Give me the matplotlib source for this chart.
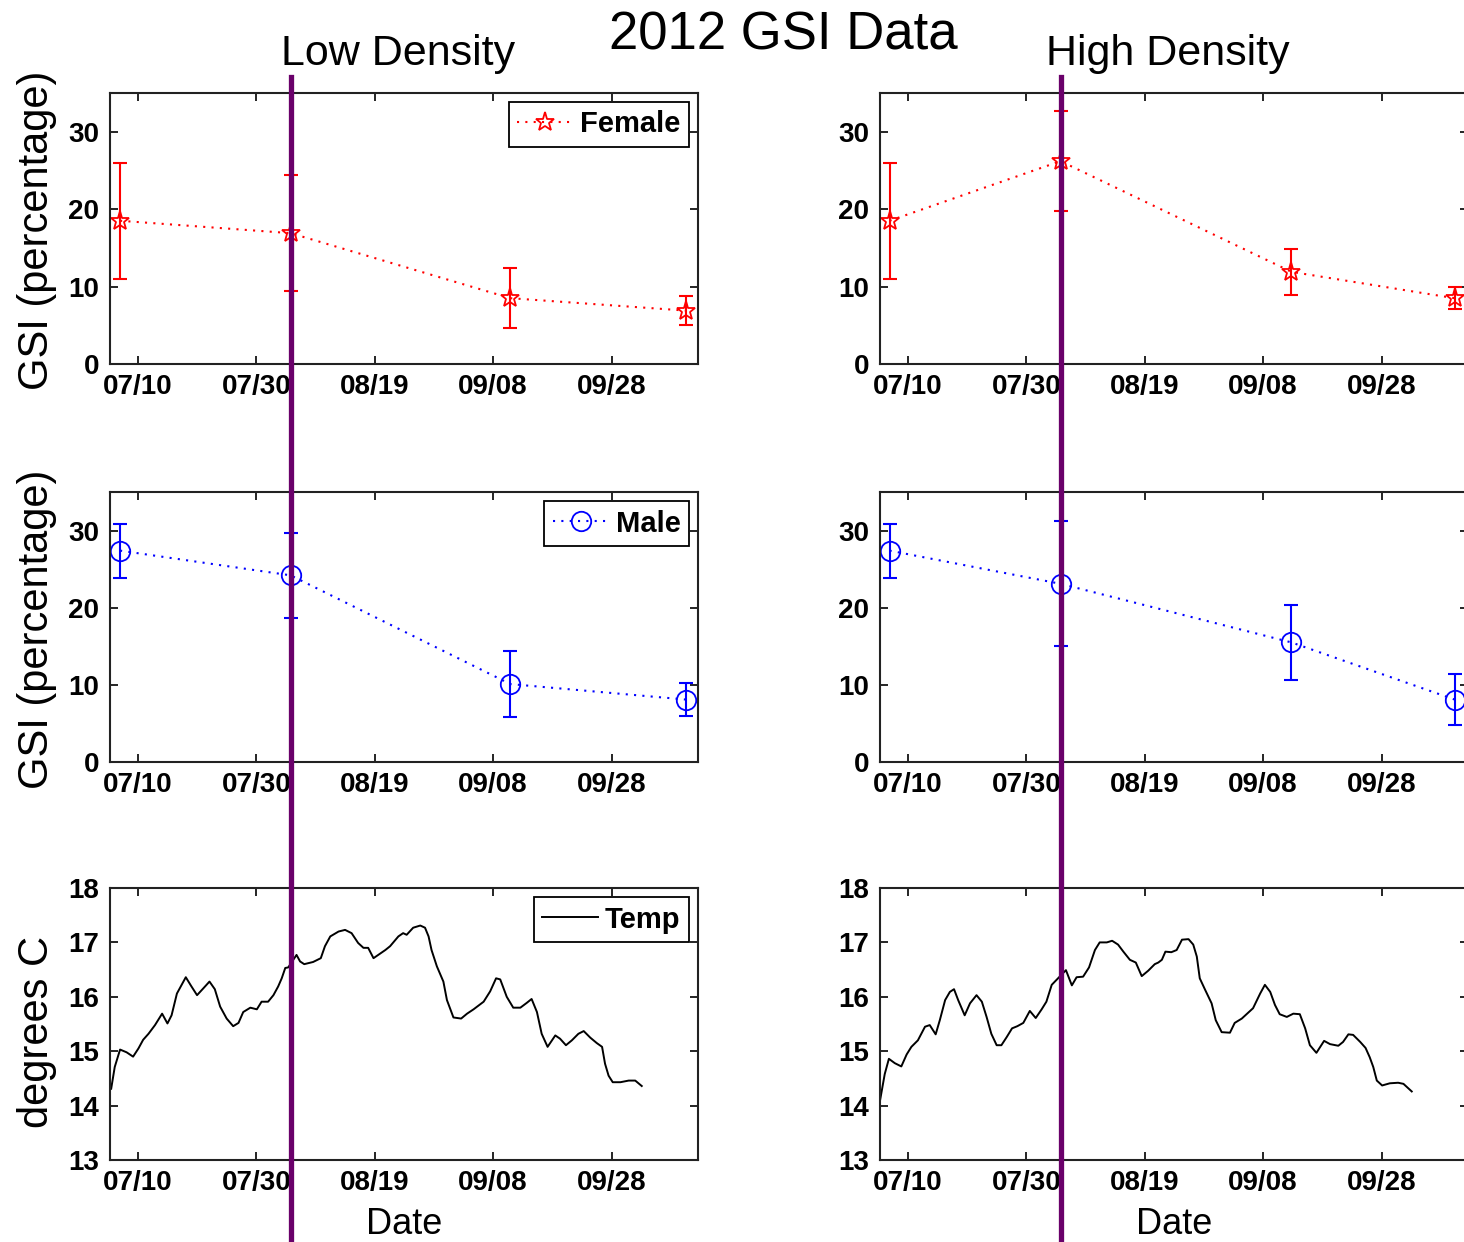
import numpy as np
import matplotlib
matplotlib.use("Agg")
import matplotlib.pyplot as plt
import matplotlib.transforms as mtransforms

plt.rcParams['font.family'] = ['Liberation Sans', 'DejaVu Sans']

# ---------------- data ----------------
start = np.datetime64('2012-07-05T00', 'h')
tick_dates = np.array(['2012-07-10', '2012-07-30', '2012-08-19', '2012-09-08', '2012-09-28'],
                      dtype='datetime64[h]')
tick_labels = ['07/10', '07/30', '08/19', '09/08', '09/28']

low_dates = np.array(['2012-07-07T00', '2012-08-04T19', '2012-09-10T22', '2012-10-10T12'],
                     dtype='datetime64[h]')
high_dates = np.array(['2012-07-06T22', '2012-08-04T19', '2012-09-12T19', '2012-10-10T08'],
                      dtype='datetime64[h]')
split_date = np.datetime64('2012-08-04T19', 'h')

female_low = [18.5, 16.9, 8.5, 6.9]
female_low_err = [7.5, 7.5, 3.9, 1.9]
female_high = [18.5, 26.2, 11.9, 8.5]
female_high_err = [7.5, 6.5, 3.0, 1.4]

male_low = [27.4, 24.2, 10.1, 8.1]
male_low_err = [3.5, 5.5, 4.3, 2.2]
male_high = [27.4, 23.1, 15.5, 8.1]
male_high_err = [3.5, 8.1, 4.9, 3.3]

# temperature, days since 07/05
temp_low_day = [0.5, 1.1, 2.0, 3.1, 4.2, 5.1, 5.9, 6.8, 7.9, 9.1, 10.0, 10.7, 11.6, 13.1, 14.0,
                15.0, 16.1, 17.1, 18.0, 18.9, 20.0, 21.1, 22.0, 22.8, 24.0, 25.1, 25.9, 27.0,
                27.9, 28.7, 29.3, 29.9, 30.4, 31.8, 32.4, 33.1, 34.6, 35.9, 36.6, 37.5, 38.9,
                40.0, 41.1, 42.2, 43.1, 43.9, 44.8, 45.6, 46.8, 47.6, 49.0, 49.8, 50.4, 51.5,
                52.7, 53.5, 54.1, 54.6, 55.5, 56.6, 57.2, 58.3, 59.6, 60.6, 61.7, 63.4, 64.5,
                65.5, 66.2, 67.3, 68.4, 69.6, 70.7, 71.5, 72.4, 73.2, 74.2, 75.5, 76.3, 77.3,
                78.3, 79.4, 80.3, 81.4, 82.5, 83.4, 83.9, 84.5, 85.2, 86.5, 87.9, 89.0, 90.1]
temp_low = [14.31, 14.71, 15.03, 14.98, 14.90, 15.05, 15.21, 15.32, 15.48, 15.69, 15.51, 15.66,
            16.06, 16.36, 16.20, 16.03, 16.16, 16.28, 16.14, 15.82, 15.60, 15.46, 15.52, 15.72,
            15.80, 15.77, 15.91, 15.91, 16.03, 16.19, 16.34, 16.53, 16.54, 16.77, 16.65, 16.60,
            16.64, 16.71, 16.93, 17.11, 17.20, 17.23, 17.17, 16.99, 16.90, 16.90, 16.71, 16.77,
            16.86, 16.93, 17.11, 17.17, 17.14, 17.27, 17.31, 17.27, 17.11, 16.86, 16.56, 16.28,
            15.94, 15.62, 15.60, 15.69, 15.77, 15.91, 16.10, 16.34, 16.32, 16.00, 15.80, 15.80,
            15.89, 15.96, 15.72, 15.32, 15.08, 15.29, 15.23, 15.11, 15.20, 15.32, 15.37, 15.25,
            15.15, 15.08, 14.77, 14.55, 14.43, 14.43, 14.46, 14.46, 14.36]

temp_high_day = [0.3, 1.1, 1.8, 2.8, 3.9, 4.8, 5.6, 6.7, 7.9, 8.7, 9.7, 10.4, 11.3, 12.1, 12.8,
                 13.5, 14.6, 15.5, 16.6, 17.5, 18.3, 19.1, 20.0, 20.8, 21.7, 22.6, 23.5, 24.5,
                 25.6, 26.6, 27.6, 28.4, 29.3, 30.1, 31.7, 32.7, 33.5, 34.6, 35.6, 36.6, 37.4,
                 38.6, 39.5, 40.5, 41.4, 42.5, 43.5, 44.5, 45.6, 46.7, 47.3, 47.9, 48.5, 49.5,
                 50.4, 51.3, 52.4, 53.2, 53.8, 54.3, 55.2, 56.3, 57.0, 58.0, 59.4, 60.2, 61.4,
                 62.5, 63.3, 64.5, 65.3, 66.2, 67.0, 67.8, 69.0, 70.1, 71.2, 72.1, 72.9, 74.0,
                 75.3, 76.3, 77.7, 78.5, 79.4, 80.2, 81.4, 82.3, 83.0, 83.6, 84.2, 85.1, 86.4,
                 87.8, 88.7, 90.1]
temp_high = [14.09, 14.58, 14.86, 14.78, 14.72, 14.94, 15.08, 15.20, 15.45, 15.48, 15.31, 15.57,
             15.94, 16.09, 16.14, 15.94, 15.66, 15.88, 16.03, 15.91, 15.63, 15.32, 15.11, 15.11,
             15.26, 15.42, 15.46, 15.52, 15.74, 15.61, 15.77, 15.91, 16.22, 16.31, 16.49, 16.21,
             16.36, 16.37, 16.54, 16.86, 17.00, 17.00, 17.03, 16.96, 16.83, 16.68, 16.63, 16.38,
             16.48, 16.60, 16.63, 16.68, 16.83, 16.82, 16.86, 17.05, 17.06, 16.96, 16.74, 16.34,
             16.13, 15.88, 15.57, 15.35, 15.34, 15.52, 15.60, 15.71, 15.79, 16.06, 16.22, 16.09,
             15.85, 15.68, 15.63, 15.69, 15.68, 15.42, 15.11, 14.97, 15.19, 15.13, 15.10, 15.17,
             15.31, 15.30, 15.17, 15.06, 14.89, 14.71, 14.46, 14.37, 14.41, 14.42, 14.40, 14.26]


def days(d):
    return (np.asarray(d, dtype='datetime64[h]') - start).astype(float) / 24.0


W, H = 1464, 1242
fig = plt.figure(figsize=(W / 100, H / 100), dpi=100)


def px_axes(x0, y0, x1, y1):
    return fig.add_axes([x0 / W, 1 - y1 / H, (x1 - x0) / W, (y1 - y0) / H])


col_x = [110, 880]
rows_y = [(93, 364), (492, 762), (888, 1160)]
ax_w = 588
xlim = (0.3, 99.6)

red = '#ff0000'
blue = '#0000ff'
purple = '#6a006a'


def style(ax, ylim, yticks):
    ax.set_xlim(*xlim)
    ax.set_ylim(*ylim)
    ax.set_yticks(yticks)
    ax.set_xticks(days(tick_dates))
    ax.set_xticklabels(tick_labels)
    ax.tick_params(direction='in', length=6, width=1.2, top=True, right=True,
                   labelsize=20, colors='black')
    ax.tick_params(axis='x', pad=7)
    ax.tick_params(axis='y', pad=8)
    for lab in ax.get_xticklabels() + ax.get_yticklabels():
        lab.set_fontweight('bold')
    for s in ax.spines.values():
        s.set_linewidth(1.5)
        s.set_color('#222222')


def legend(ax):
    leg = ax.legend(loc='upper right', fancybox=False, edgecolor='black', framealpha=1,
                    prop={'size': 21, 'weight': 'bold'}, borderaxespad=0.3,
                    handlelength=1.9, handletextpad=0.25, borderpad=0.3, numpoints=1)
    leg.get_frame().set_linewidth(1.3)


gsi_sets = [
    (female_low, female_low_err, female_high, female_high_err, red, '*', 14, 'Female'),
    (male_low, male_low_err, male_high, male_high_err, blue, 'o', 14, 'Male'),
]

axes_top = []
for r, (lo, lo_err, hi, hi_err, c, mk, ms, name) in enumerate(gsi_sets):
    y0, y1 = rows_y[r]
    for ci, (dts, vals, errs) in enumerate([(low_dates, lo, lo_err), (high_dates, hi, hi_err)]):
        ax = px_axes(col_x[ci], y0, col_x[ci] + ax_w, y1)
        x = days(dts)
        ax.errorbar(x, vals, yerr=errs, fmt='none', ecolor=c, elinewidth=1.5,
                    capsize=5, capthick=1.5)
        ax.plot(x, vals, color=c, linestyle=(0, (1, 3)), linewidth=1.5, marker=mk,
                markersize=ms, markerfacecolor='none', markeredgecolor=c,
                markeredgewidth=1.3, label=name)
        style(ax, (0, 35), [0, 10, 20, 30])
        if ci == 0:
            legend(ax)
        if r == 0:
            axes_top.append(ax)

y0, y1 = rows_y[2]
for ci, (td, tv) in enumerate([(temp_low_day, temp_low), (temp_high_day, temp_high)]):
    ax = px_axes(col_x[ci], y0, col_x[ci] + ax_w, y1)
    ax.plot(td, tv, color='black', linewidth=1.4, label='Temp')
    style(ax, (13, 18), [13, 14, 15, 16, 17, 18])
    ax.set_xlabel('Date', fontsize=26, labelpad=8)
    if ci == 0:
        legend(ax)

# y labels
for yc, txt in [(230, 'GSI (percentage)'), (629, 'GSI (percentage)'), (1032, 'degrees C')]:
    fig.text(37 / W, 1 - yc / H, txt, rotation=90, ha='center', va='center', fontsize=30)

# titles
fig.text(783 / W, 1 - 50 / H, '2012 GSI Data', ha='center', va='baseline', fontsize=38)
fig.text(398 / W, 1 - 65 / H, 'Low Density', ha='center', va='baseline', fontsize=31)
fig.text(1168 / W, 1 - 65 / H, 'High Density', ha='center', va='baseline', fontsize=31)

# density split lines running through all panels
for ax in axes_top:
    tr = mtransforms.blended_transform_factory(ax.transData, fig.transFigure)
    xs = days(split_date)
    fig.add_artist(plt.Line2D([xs, xs], [0, 1 - 77 / H], transform=tr,
                              color=purple, linewidth=3.8, zorder=10))

fig.savefig('out.png', dpi=100)
